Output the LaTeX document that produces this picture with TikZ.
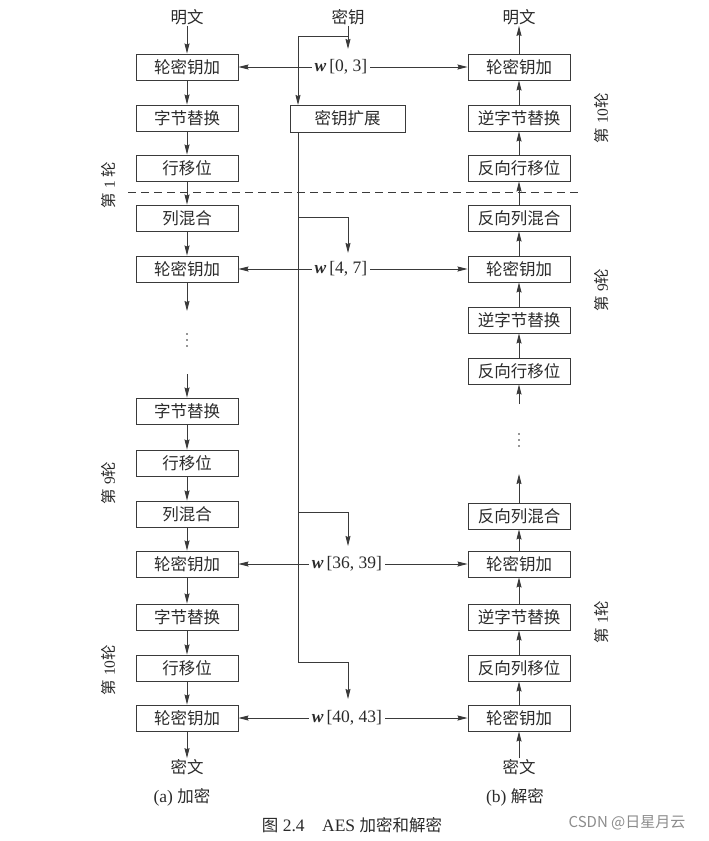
\documentclass[tikz,border=0pt]{standalone}
\usepackage{fontspec}
\setmainfont{Liberation Serif}
\newfontfamily\cjk{Noto Sans CJK SC}
\usetikzlibrary{arrows.meta}
\definecolor{linec}{HTML}{3A3A3A}
\definecolor{txtc}{HTML}{2A2A2A}
\newcommand{\wv}{\textbf{\textit{w}}}
\begin{document}
\begin{tikzpicture}[x=1pt,y=-1pt,
  box/.style={draw=linec, line width=0.9pt, minimum width=102pt, minimum height=26pt, inner sep=0pt, text=txtc, font=\cjk\fontsize{16.5}{16.5}\selectfont},
  kbox/.style={box, minimum width=115pt, minimum height=27pt},
  lbl/.style={text=txtc, inner sep=1pt, font=\cjk\fontsize{16.5}{16.5}\selectfont},
  wlbl/.style={text=txtc, inner sep=3pt, font=\fontsize{17.5}{17.5}\selectfont},
  rnd/.style={text=txtc, rotate=90, inner sep=0pt, font=\fontsize{15.5}{15.5}\selectfont},
  dotc/.style={fill=txtc},
  arr/.style={draw=linec, line width=0.9pt, -{Stealth[length=10pt,width=5pt,inset=1pt]}},
  ln/.style={draw=linec, line width=0.9pt}]
\path[use as bounding box] (0,0) rectangle (709,841);

% ---------- left (encryption) ----------
\node[lbl] (L0) at (187,17) {明文};
\node[box] (La) at (187,67) {轮密钥加};
\node[box] (Lb) at (187,118) {字节替换};
\node[box] (Lc) at (187,168) {行移位};
\node[box] (Ld) at (187,218) {列混合};
\node[box] (Le) at (187,269) {轮密钥加};
\coordinate (Lt1) at (187,311);
\coordinate (Ldots) at (187,340);
\coordinate (Lt2) at (187,374);
\node[box] (Lf) at (187,411) {字节替换};
\node[box] (Lg) at (187,463) {行移位};
\node[box] (Lh) at (187,514) {列混合};
\node[box] (Li) at (187,564) {轮密钥加};
\node[box] (Lj) at (187,617) {字节替换};
\node[box] (Lk) at (187,668) {行移位};
\node[box] (Ll) at (187,718) {轮密钥加};
\node[lbl] (Lout) at (187,767) {密文};
\node[lbl, font=\fontsize{17.5}{17.5}\selectfont] (capA) at (182,797) {(a) {\cjk\fontsize{16.5}{16.5}\selectfont 加密}};

\fill[dotc] (Ldots) ++(0,-6) circle (0.9) (Ldots) circle (0.9) (Ldots) ++(0,6) circle (0.9);

\draw[arr] (L0) -- (La);
\draw[arr] (La) -- (Lb);
\draw[arr] (Lb) -- (Lc);
\draw[arr] (Lc) -- (Ld);
\draw[arr] (Ld) -- (Le);
\draw[arr] (Le) -- (Lt1);
\draw[arr] (Lt2) -- (Lf);
\draw[arr] (Lf) -- (Lg);
\draw[arr] (Lg) -- (Lh);
\draw[arr] (Lh) -- (Li);
\draw[arr] (Li) -- (Lj);
\draw[arr] (Lj) -- (Lk);
\draw[arr] (Lk) -- (Ll);
\draw[arr] (Ll) -- (Lout);

% ---------- right (decryption) ----------
\node[lbl] (R0) at (519,17) {明文};
\node[box] (Ra) at (519,67) {轮密钥加};
\node[box] (Rb) at (519,118) {逆字节替换};
\node[box] (Rc) at (519,168) {反向行移位};
\node[box] (Rd) at (519,218) {反向列混合};
\node[box] (Re) at (519,269) {轮密钥加};
\node[box] (Rf) at (519,320) {逆字节替换};
\node[box] (Rg) at (519,371) {反向行移位};
\coordinate (Rt1) at (519,404);
\coordinate (Rdots) at (519,440);
\coordinate (Rt2) at (519,474);
\node[box] (Rh) at (519,516) {反向列混合};
\node[box] (Ri) at (519,564) {轮密钥加};
\node[box] (Rj) at (519,617) {逆字节替换};
\node[box] (Rk) at (519,668) {反向列移位};
\node[box] (Rl) at (519,718) {轮密钥加};
\node[lbl] (Rin) at (519,767) {密文};
\node[lbl, font=\fontsize{17.5}{17.5}\selectfont] (capB) at (515,797) {(b) {\cjk\fontsize{16.5}{16.5}\selectfont 解密}};

\fill[dotc] (Rdots) ++(0,-6) circle (0.9) (Rdots) circle (0.9) (Rdots) ++(0,6) circle (0.9);

\draw[arr] (Ra) -- (R0);
\draw[arr] (Rb) -- (Ra);
\draw[arr] (Rc) -- (Rb);
\draw[arr] (Rd) -- (Rc);
\draw[arr] (Re) -- (Rd);
\draw[arr] (Rf) -- (Re);
\draw[arr] (Rg) -- (Rf);
\draw[arr] (Rt1) -- (Rg);
\draw[arr] (Rh) -- (Rt2);
\draw[arr] (Ri) -- (Rh);
\draw[arr] (Rj) -- (Ri);
\draw[arr] (Rk) -- (Rj);
\draw[arr] (Rl) -- (Rk);
\draw[arr] (Rin) -- (Rl);

% ---------- key schedule ----------
\node[lbl] (K) at (348,17) {密钥};
\node[kbox] (KE) at (347.5,118.5) {密钥扩展};
\coordinate (kb0) at (348,36);
\coordinate (k0) at (348,49);
\coordinate (kt) at (298,105);
\coordinate (ks) at (298,132);
\coordinate (b1) at (298,217);
\coordinate (b1e) at (348,253);
\coordinate (b2) at (298,512);
\coordinate (b2e) at (348,546);
\coordinate (b3) at (298,662);
\coordinate (b3e) at (348,699);

\draw[arr] (K) -- (k0);
\draw[arr] (kb0) -| (kt);
\draw[ln] (ks) -- (b3);
\draw[arr] (b1) -| (b1e);
\draw[arr] (b2) -| (b2e);
\draw[arr] (b3) -| (b3e);

\node[wlbl] (w0) at (341,67) {\wv\,[0, 3]};
\node[wlbl] (w1) at (341,269) {\wv\,[4, 7]};
\node[wlbl] (w2) at (347,564) {\wv\,[36, 39]};
\node[wlbl] (w3) at (347,718) {\wv\,[40, 43]};

\draw[arr] (w0) -- (La);
\draw[arr] (w0) -- (Ra);
\draw[arr] (w1) -- (Le);
\draw[arr] (w1) -- (Re);
\draw[arr] (w2) -- (Li);
\draw[arr] (w2) -- (Ri);
\draw[arr] (w3) -- (Ll);
\draw[arr] (w3) -- (Rl);

% ---------- round separator ----------
\coordinate (dl) at (128,192);
\coordinate (dr) at (580,192);
\draw[ln, dash pattern=on 8pt off 5pt, line width=0.8pt] (dl) -- (dr);

% ---------- round labels ----------
\node[rnd] (r1) at (109,185) {{\cjk 第} 1 {\cjk 轮}};
\node[rnd] (r2) at (109,483) {{\cjk 第} 9{\cjk 轮}};
\node[rnd] (r3) at (109,670) {{\cjk 第} 10{\cjk 轮}};
\node[rnd] (r4) at (602,118) {{\cjk 第} 10{\cjk 轮}};
\node[rnd] (r5) at (602,290) {{\cjk 第} 9{\cjk 轮}};
\node[rnd] (r6) at (602,622) {{\cjk 第} 1{\cjk 轮}};

% ---------- caption ----------
\node[text=txtc, font=\fontsize{17.5}{17.5}\selectfont] (cap) at (352,825) {{\cjk\fontsize{16.5}{16.5}\selectfont 图} 2.4\quad AES {\cjk\fontsize{16.5}{16.5}\selectfont 加密和解密}};
\node[text=black!45, font=\cjk\fontsize{15}{15}\selectfont] (wm) at (627,823) {CSDN @日星月云};
\end{tikzpicture}
\end{document}
